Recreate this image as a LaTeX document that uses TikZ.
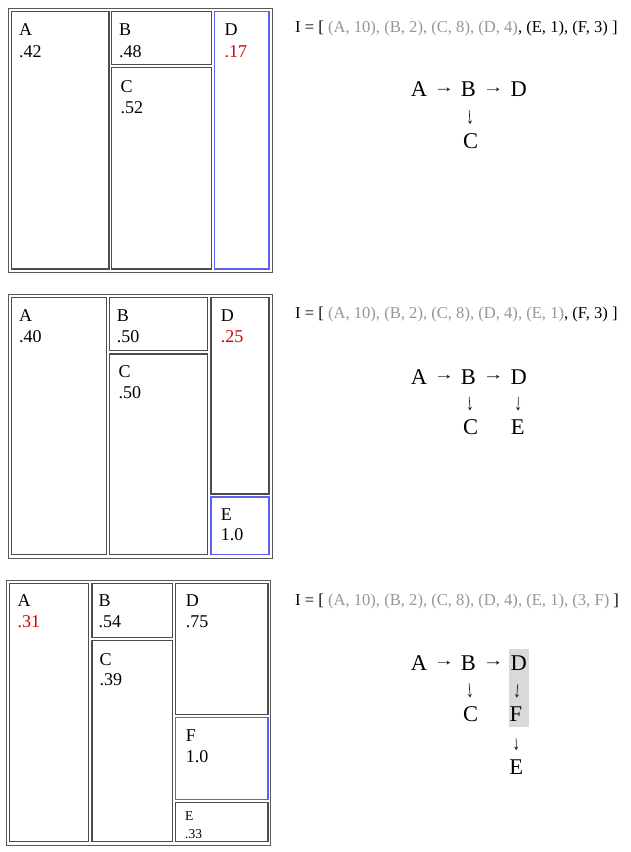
\documentclass[tikz,border=0pt]{standalone}
\usepackage{fontspec}
\setmainfont{Liberation Serif}
\usetikzlibrary{calc,arrows.meta}
\definecolor{selblue}{RGB}{95,95,240}
\definecolor{valred}{RGB}{215,0,0}
\definecolor{listgrey}{RGB}{150,150,150}
\definecolor{hlgrey}{RGB}{217,217,217}
\begin{document}
\begin{tikzpicture}[x=1pt,y=-1pt,
  frame/.style={draw=black!65,line width=1pt},
  box/.style={draw=black!70,line width=1.4pt},
  selbox/.style={draw=selblue,line width=1.2pt},
  lbl/.style={font=\fontsize{18}{21}\selectfont,anchor=base west,inner sep=0},
  lblsmall/.style={font=\fontsize{13.5}{16}\selectfont,anchor=base west,inner sep=0},
  tl/.style={font=\fontsize{22.5}{26}\selectfont,anchor=base,inner sep=0},
  ilist/.style={font=\fontsize{16.6}{19}\selectfont,anchor=base west,inner sep=0},
  arr/.style={draw=black!85,line width=0.7pt,-{Stealth[length=3.5pt,width=4pt]}}]
\useasboundingbox (0,0) rectangle (631,852);
\fill[white] (0,0) rectangle (631,852);

% ---------- Panel 1 ----------
\draw[frame] (8,8) rectangle (272,272);
\draw[box] (11.3,11.3) rectangle (109,269);
\draw[box] (111.7,11.3) rectangle (211.7,64.3);
\draw[box] (111.7,67.7) rectangle (211.7,269);
\draw[selbox] (214.8,11.3) rectangle (269,269);
\node[lbl] (p1A) at (19,35) {A};
\node[lbl] (p1Av) at (19,57) {.42};
\node[lbl] (p1B) at (119,35) {B};
\node[lbl] (p1Bv) at (119,57) {.48};
\node[lbl] (p1C) at (120.5,92) {C};
\node[lbl] (p1Cv) at (120.5,113) {.52};
\node[lbl] (p1D) at (224.5,35) {D};
\node[lbl,text=valred] (p1Dv) at (224.5,57) {.17};

\node[ilist] (i1) at (295,32.3) {I = [ \textcolor{listgrey}{(A, 10), (B, 2), (C, 8), (D, 4)}, (E, 1), (F, 3) ]};
\node[tl] (t1A) at (419,96.7) {A};
\node[tl] (t1B) at (468.3,96.7) {B};
\node[tl] (t1D) at (518.8,96.7) {D};
\node[tl] (t1C) at (470.7,148.3) {C};
\draw[arr] ($(t1A.east)!0.32!(t1B.west)$) -- ($(t1A.east)!0.68!(t1B.west)$);
\draw[arr] ($(t1B.east)!0.32!(t1D.west)$) -- ($(t1B.east)!0.68!(t1D.west)$);
\draw[arr] ($(t1B.south)!0.36!(t1C.north)$) -- ($(t1B.south)!0.75!(t1C.north)$);

% ---------- Panel 2 ----------
\draw[frame] (8,294) rectangle (272,558);
\draw[box] (11.3,297.3) rectangle (106.3,554.7);
\draw[box] (109.7,297.3) rectangle (207.7,350.7);
\draw[box] (109.7,354) rectangle (207.7,554.7);
\draw[box] (211,297.3) rectangle (269,494);
\draw[selbox] (211,497) rectangle (269,554.7);
\node[lbl] (p2A) at (19,321) {A};
\node[lbl] (p2Av) at (19,342.3) {.40};
\node[lbl] (p2B) at (116.7,321) {B};
\node[lbl] (p2Bv) at (116.7,342.3) {.50};
\node[lbl] (p2C) at (118.3,377.7) {C};
\node[lbl] (p2Cv) at (118.3,398.5) {.50};
\node[lbl] (p2D) at (220.7,321) {D};
\node[lbl,text=valred] (p2Dv) at (220.7,342.3) {.25};
\node[lbl] (p2E) at (220.7,520) {E};
\node[lbl] (p2Ev) at (220.7,540.7) {1.0};

\node[ilist] (i2) at (295,318.3) {I = [ \textcolor{listgrey}{(A, 10), (B, 2), (C, 8), (D, 4), (E, 1)}, (F, 3) ]};
\node[tl] (t2A) at (419,384) {A};
\node[tl] (t2B) at (468.3,384) {B};
\node[tl] (t2D) at (518.8,384) {D};
\node[tl] (t2C) at (470.7,434.3) {C};
\node[tl] (t2E) at (517.7,434.3) {E};
\draw[arr] ($(t2A.east)!0.32!(t2B.west)$) -- ($(t2A.east)!0.68!(t2B.west)$);
\draw[arr] ($(t2B.east)!0.32!(t2D.west)$) -- ($(t2B.east)!0.68!(t2D.west)$);
\draw[arr] ($(t2B.south)!0.36!(t2C.north)$) -- ($(t2B.south)!0.75!(t2C.north)$);
\draw[arr] ($(t2D.south)!0.36!(t2E.north)$) -- ($(t2D.south)!0.75!(t2E.north)$);

% ---------- Panel 3 ----------
\draw[frame] (6.5,580) rectangle (270.5,845);
\draw[box] (9.5,583.3) rectangle (88.3,841.3);
\draw[box] (91.8,583.3) rectangle (172.3,637.3);
\draw[box] (91.8,640.3) rectangle (172.3,841.3);
\draw[box] (175.5,583.3) rectangle (268,714.3);
\draw[selbox] (175.5,717.3) rectangle (268,799.3);
\draw[box] (175.5,802.3) rectangle (268,841.3);
\node[lbl] (p3A) at (17.3,606.7) {A};
\node[lbl,text=valred] (p3Av) at (17.3,627.3) {.31};
\node[lbl] (p3B) at (98.3,606.7) {B};
\node[lbl] (p3Bv) at (98.3,627.3) {.54};
\node[lbl] (p3C) at (99.3,665) {C};
\node[lbl] (p3Cv) at (99.3,685.7) {.39};
\node[lbl] (p3D) at (185.7,606.7) {D};
\node[lbl] (p3Dv) at (185.7,627.3) {.75};
\node[lbl] (p3F) at (185.7,741.7) {F};
\node[lbl] (p3Fv) at (185.7,762.3) {1.0};
\node[lblsmall] (p3E) at (185,820) {E};
\node[lblsmall] (p3Ev) at (185,838.3) {.33};

\node[ilist] (i3) at (295,605) {I = [ \textcolor{listgrey}{(A, 10), (B, 2), (C, 8), (D, 4), (E, 1), (3, F)} ]};
\fill[hlgrey] (508.7,649) rectangle (528.7,727.3);
\node[tl] (t3A) at (419,670) {A};
\node[tl] (t3B) at (468.3,670) {B};
\node[tl] (t3D) at (518.8,670) {D};
\node[tl] (t3C) at (470.7,721.7) {C};
\node[tl] (t3F) at (516,721.7) {F};
\node[tl] (t3E) at (516.3,774) {E};
\draw[arr] ($(t3A.east)!0.32!(t3B.west)$) -- ($(t3A.east)!0.68!(t3B.west)$);
\draw[arr] ($(t3B.east)!0.32!(t3D.west)$) -- ($(t3B.east)!0.68!(t3D.west)$);
\draw[arr] ($(t3B.south)!0.36!(t3C.north)$) -- ($(t3B.south)!0.75!(t3C.north)$);
\draw[arr] ($(t3D.south)!0.38!(t3F.north)$) -- ($(t3D.south)!0.75!(t3F.north)$);
\draw[arr] ($(t3F.south)!0.42!(t3E.north)$) -- ($(t3F.south)!0.76!(t3E.north)$);
\end{tikzpicture}
\end{document}
